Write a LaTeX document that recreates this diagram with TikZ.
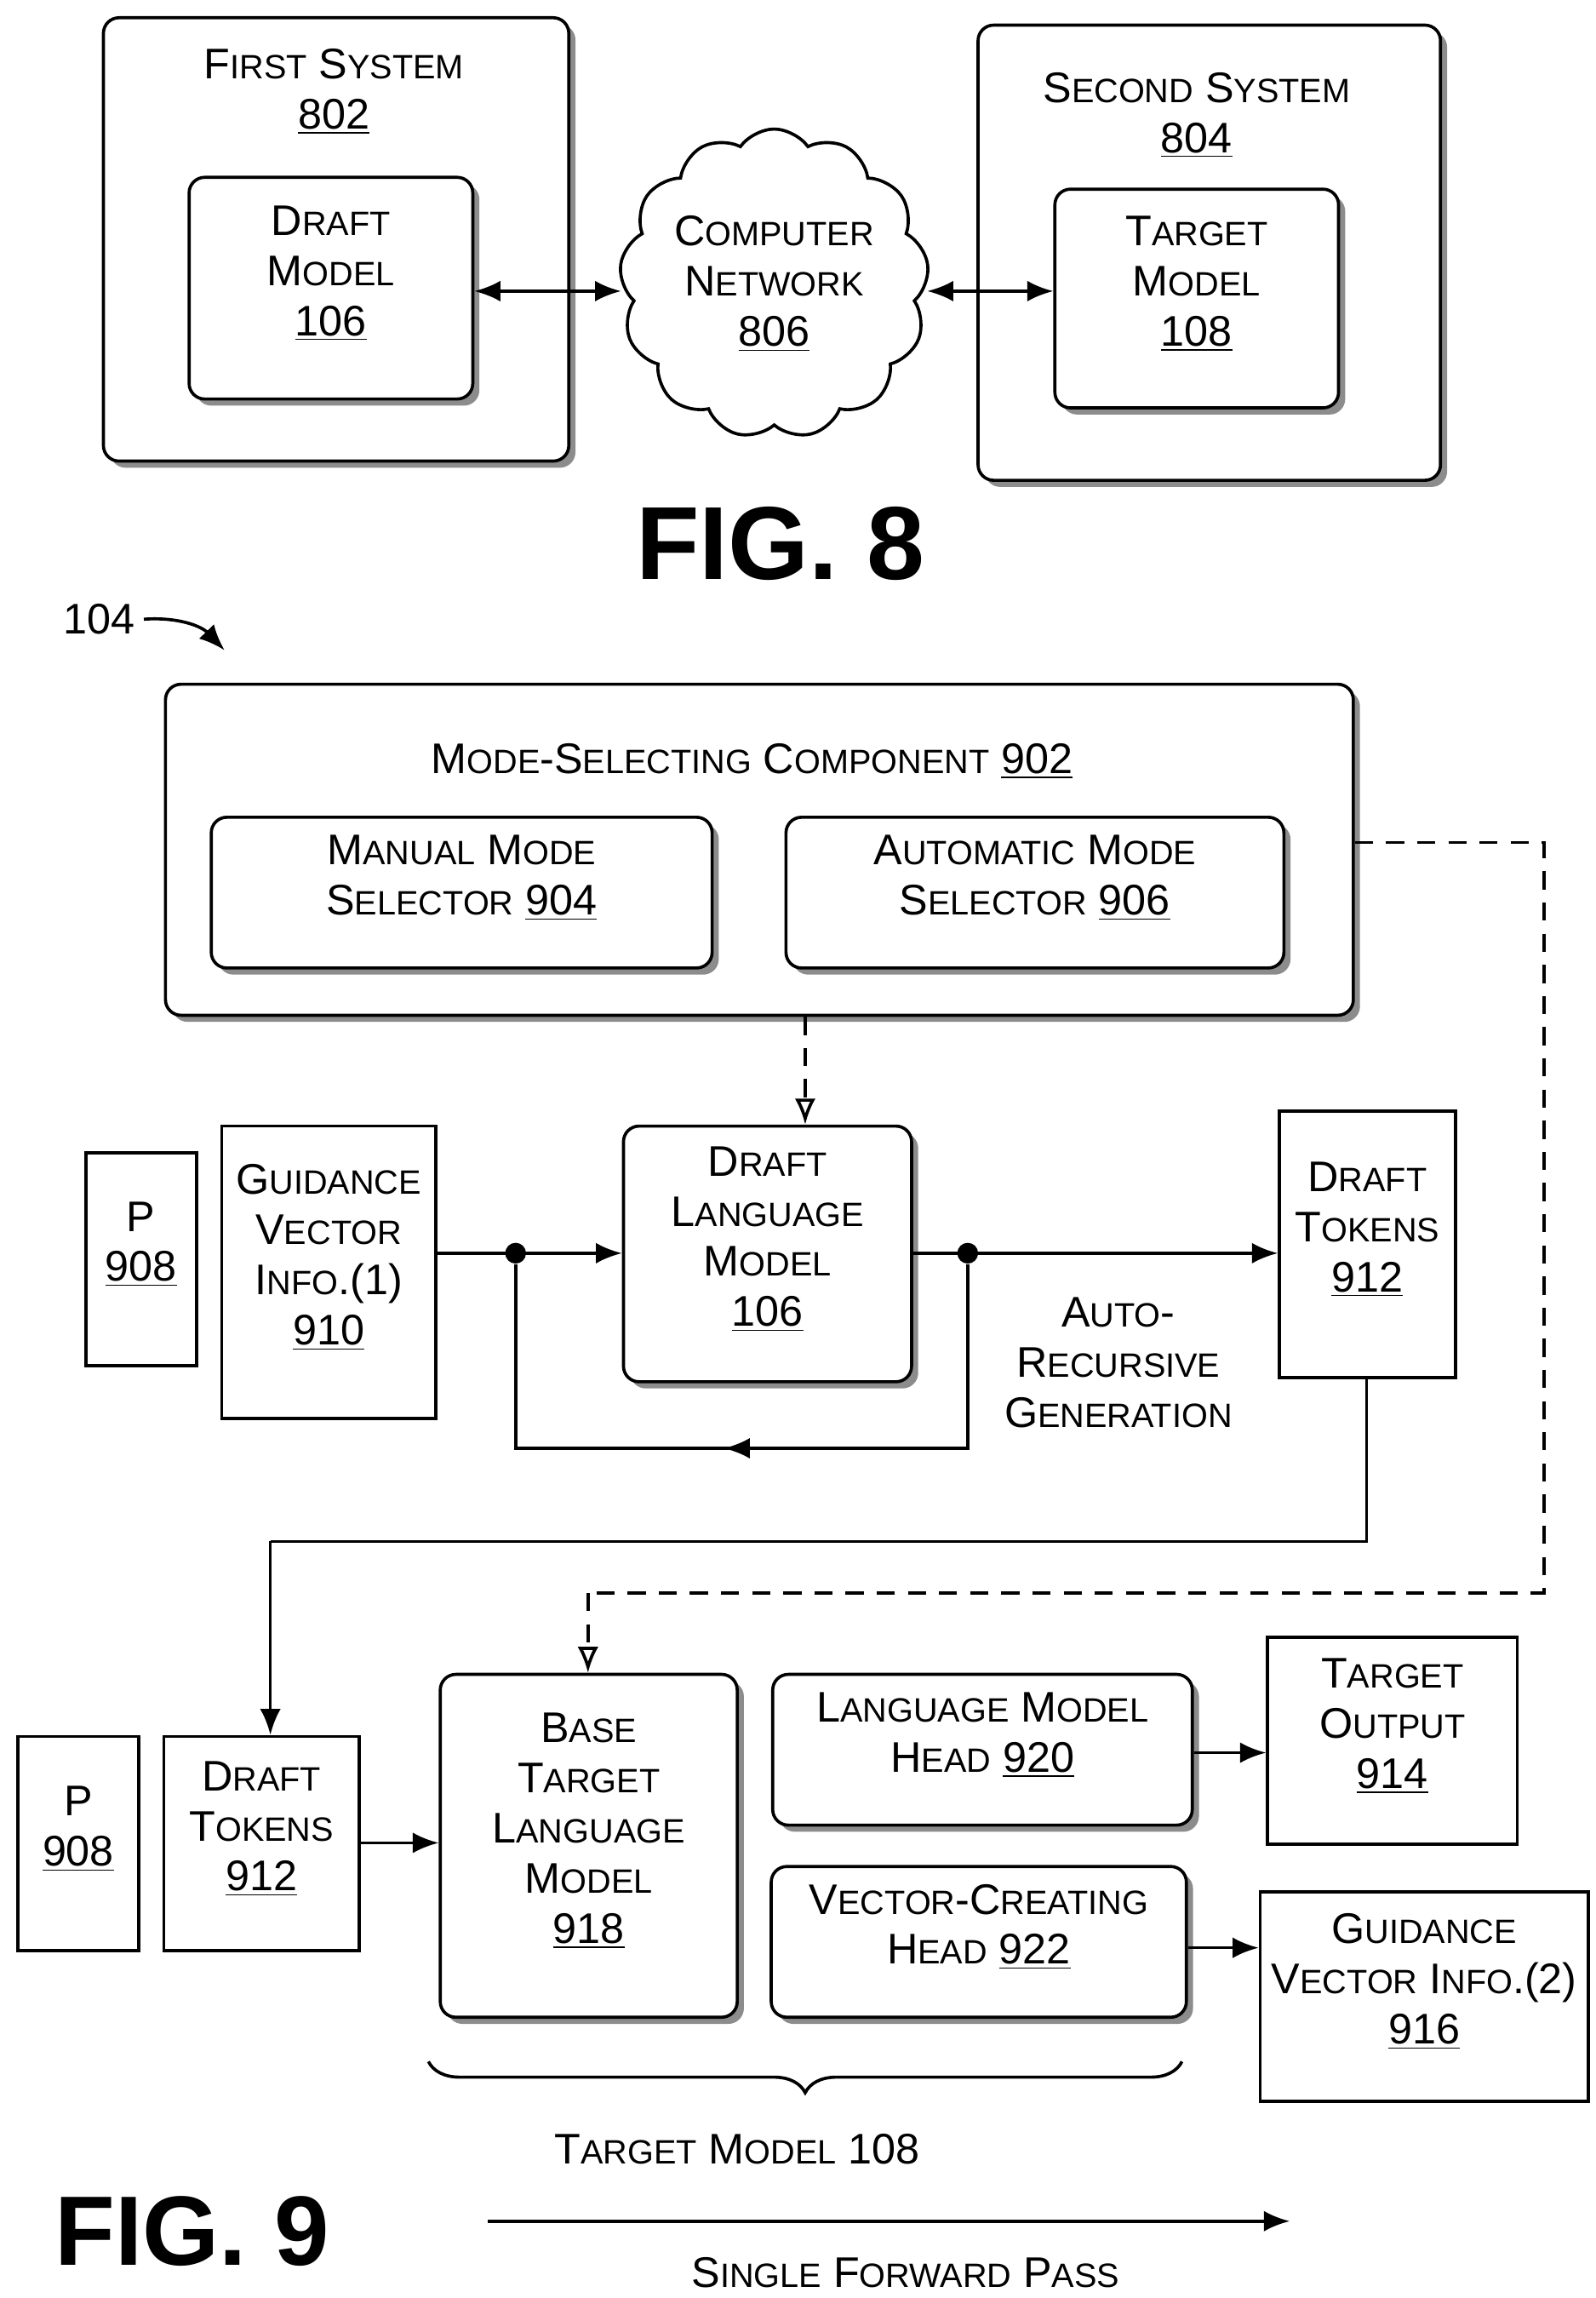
\documentclass[tikz,border=0pt]{standalone}
\usepackage{fontspec}
\setmainfont{Liberation Sans}
\usetikzlibrary{shapes.symbols,shadows,fit,arrows.meta,decorations.pathreplacing}
\newcommand\sm[1]{{\fontsize{13}{19.3}\selectfont\MakeUppercase{#1}}}
\newcommand\un[1]{\underline{#1}}
\begin{document}
\begin{tikzpicture}[x=0.02cm,y=-0.02cm,
  every node/.style={font=\fontsize{16.5}{19.3}\selectfont},
  rbox/.style={draw,line width=1.2pt,rounded corners=6pt,fill=white,inner sep=0pt,align=center,
     drop shadow={shadow xshift=0.09cm,shadow yshift=-0.09cm,fill=black!45,opacity=1}},
  sbox/.style={draw,line width=1.2pt,fill=white,inner sep=0pt,align=center},
  ar/.style={line width=1.2pt,-{Latex[length=10pt,width=8pt]}},
  dsh/.style={line width=1.2pt,dash pattern=on 7pt off 5pt},
  dar/.style={dsh,-{Latex[length=10pt,width=8pt,open]}},
  dot/.style={circle,fill,inner sep=0pt,minimum size=8pt}]
\useasboundingbox (0,0) rectangle (1080,1555);
% FIG 8
\node[rbox,fit={(70,12)(385,312)}] (fs) {};
\node (fst) at (226,62) [align=center] {F\sm{irst} S\sm{ystem}\\\un{802}};
\node[rbox,fit={(128,120)(320,270)}] (dm) {D\sm{raft}\\M\sm{odel}\\\un{106}};
\node[rbox,fit={(662,17)(975,325)}] (ss) {};
\node (sst) at (810,78) [align=center] {S\sm{econd} S\sm{ystem}\\\un{804}};
\node[rbox,fit={(714,128)(906,276)}] (tm) {T\sm{arget}\\M\sm{odel}\\\un{108}};
\node[cloud,draw,line width=1.2pt,cloud puffs=13,cloud puff arc=110,minimum width=3.8cm,minimum height=3.5cm,align=center,inner sep=0pt] (cn) at (524,192) {C\sm{omputer}\\N\sm{etwork}\\\un{806}};
\draw[line width=1.2pt,{Latex[length=10pt,width=8pt]}-{Latex[length=10pt,width=8pt]}] (dm.east|-0,197) -- (cn.west|-0,197);
\draw[line width=1.2pt,{Latex[length=10pt,width=8pt]}-{Latex[length=10pt,width=8pt]}] (cn.east|-0,197) -- (tm.west|-0,197);
\node[font=\fontsize{40}{40}\selectfont\bfseries] (f8) at (528,368) {FIG. 8};
% FIG 9
\node (l104) at (67,419) {104};
\coordinate (t104) at (152,440);
\draw[ar] (l104.east) to[bend left=25] (t104);
\node[rbox,fit={(112,463)(916,687)}] (msc) {};
\node (msct) at (509,515) {M\sm{ode}-S\sm{electing} C\sm{omponent} \un{902}};
\node[rbox,fit={(143,553)(482,655)}] (man) {M\sm{anual} M\sm{ode}\\S\sm{elector} \un{904}};
\node[rbox,fit={(532,553)(869,655)}] (aut) {A\sm{utomatic} M\sm{ode}\\S\sm{elector} \un{906}};
\node[sbox,fit={(58,780)(133,924)}] (p1) {P\\\un{908}};
\node[sbox,fit={(150,762)(295,960)}] (gv1) {G\sm{uidance}\\V\sm{ector}\\I\sm{nfo}.(1)\\\un{910}};
\node[rbox,fit={(422,762)(617,935)}] (dlm) {D\sm{raft}\\L\sm{anguage}\\M\sm{odel}\\\un{106}};
\node[sbox,fit={(866,752)(985,932)}] (dt1) {D\sm{raft}\\T\sm{okens}\\\un{912}};
\draw[dar] (msc.south-|545,0) -- (dlm.north-|545,0);
\node[dot] (d1) at (349,848) {};
\node[dot] (d2) at (655,848) {};
\draw[ar] (gv1.east|-0,848) -- (dlm.west|-0,848);
\draw[ar] (dlm.east|-0,848) -- (dt1.west|-0,848);
\coordinate (c1) at (655,980);
\coordinate (c2) at (349,980);
\coordinate (c3) at (490,980);
\draw[line width=1.2pt] (d2) -- (c1) -- (c2) -- (d1);
\draw[ar] (c1) -- (c3);
\node[align=center] (arg) at (757,922) {A\sm{uto}-\\R\sm{ecursive}\\G\sm{eneration}};
% bottom row
\node[sbox,fit={(12,1175)(94,1320)}] (p2) {P\\\un{908}};
\node[sbox,fit={(111,1175)(243,1320)}] (dt2) {D\sm{raft}\\T\sm{okens}\\\un{912}};
\node[rbox,fit={(298,1133)(499,1365)}] (btlm) {B\sm{ase}\\T\sm{arget}\\L\sm{anguage}\\M\sm{odel}\\\un{918}};
\node[rbox,fit={(523,1133)(807,1235)}] (lmh) {L\sm{anguage} M\sm{odel}\\H\sm{ead} \un{920}};
\node[rbox,fit={(522,1263)(803,1365)}] (vch) {V\sm{ector}-C\sm{reating}\\H\sm{ead} \un{922}};
\node[sbox,fit={(858,1108)(1027,1248)}] (to) {T\sm{arget}\\O\sm{utput}\\\un{914}};
\node[sbox,fit={(853,1280)(1075,1422)}] (gv2) {G\sm{uidance}\\V\sm{ector} I\sm{nfo}.(2)\\\un{916}};
\coordinate (e1) at (925,1043);
\coordinate (e2) at (183,1043);
\draw[line width=1.2pt] (dt1.south-|925,0) -- (e1) -- (e2);
\draw[ar] (e2) -- (dt2.north-|183,0);
\coordinate (g1) at (1045,570);
\coordinate (g2) at (1045,1078);
\coordinate (g3) at (398,1078);
\draw[dsh] (msc.east|-0,570) -- (g1) -- (g2) -- (g3);
\draw[dar] (g3) -- (btlm.north-|398,0);
\draw[ar] (dt2.east|-0,1247) -- (btlm.west|-0,1247);
\draw[ar] (lmh.east|-0,1186) -- (to.west|-0,1186);
\draw[ar] (vch.east|-0,1318) -- (gv2.west|-0,1318);
\coordinate (b1) at (290,1395);
\coordinate (b2) at (800,1395);
\draw[line width=1.2pt,decorate,decoration={brace,mirror,amplitude=12pt}] (b1) -- (b2);
\node (tml) at (499,1454) {T\sm{arget} M\sm{odel} 108};
\node[font=\fontsize{38}{38}\selectfont\bfseries] (f9) at (130,1510) {FIG. 9};
\coordinate (s1) at (330,1503);
\coordinate (s2) at (873,1503);
\draw[ar] (s1) -- (s2);
\node (sfp) at (613,1538) {S\sm{ingle} F\sm{orward} P\sm{ass}};
\end{tikzpicture}
\end{document}
